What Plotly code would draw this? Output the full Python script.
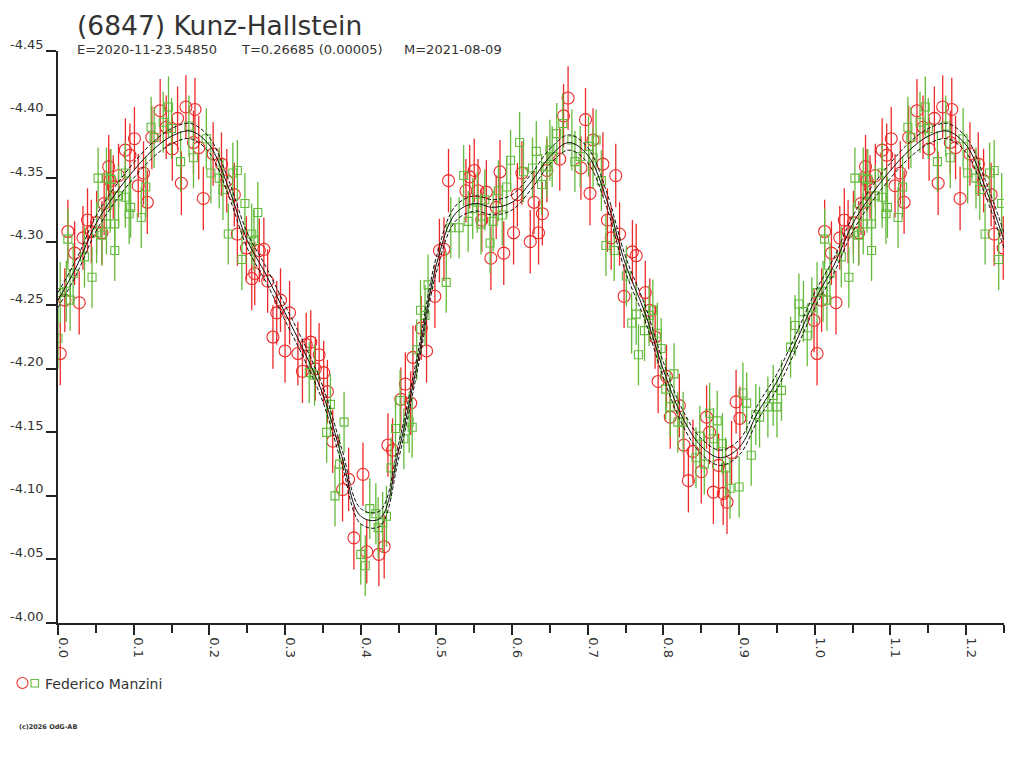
import plotly.graph_objects as go

# light curve: phase vs reduced magnitude, one observer, two data sets
red_phase = [0.003, 0.013, 0.009, 0.022, 0.028, 0.033, 0.039, 0.044, 0.051, 0.058,
             0.061, 0.067, 0.069, 0.073, 0.080, 0.089, 0.095, 0.101, 0.106, 0.113,
             0.118, 0.124, 0.135, 0.143, 0.151, 0.158, 0.163, 0.169, 0.181, 0.179,
             0.186, 0.192, 0.205, 0.216, 0.223, 0.233, 0.237, 0.249, 0.256, 0.266,
             0.272, 0.260, 0.277, 0.294, 0.289, 0.306, 0.284, 0.300, 0.317, 0.328,
             0.334, 0.345, 0.323, 0.340, 0.351, 0.356, 0.363, 0.376, 0.384, 0.391,
             0.403, 0.408, 0.424, 0.431, 0.436, 0.442, 0.453, 0.459, 0.466, 0.469,
             0.480, 0.487, 0.498, 0.504, 0.510, 0.516, 0.539, 0.544, 0.550, 0.555,
             0.560, 0.566, 0.572, 0.579, 0.584, 0.589, 0.602, 0.607, 0.613, 0.624,
             0.629, 0.635, 0.640, 0.646, 0.663, 0.668, 0.674, 0.691, 0.697, 0.703,
             0.707, 0.720, 0.726, 0.731, 0.737, 0.742, 0.748, 0.759, 0.764, 0.776,
             0.782, 0.789, 0.793, 0.804, 0.809, 0.821, 0.827, 0.839, 0.833, 0.850,
             0.857, 0.861, 0.866, 0.873, 0.879, 0.884, 0.890, 0.896, 0.901, 0.999]
red_mag = [-4.212, -4.308, -4.254, -4.291, -4.252, -4.303, -4.317, -4.308, -4.315, -4.307,
           -4.330, -4.359, -4.348, -4.343, -4.352, -4.372, -4.368, -4.381, -4.344, -4.354,
           -4.331, -4.382, -4.403, -4.390, -4.373, -4.397, -4.346, -4.406, -4.404, -4.378,
           -4.374, -4.334, -4.369, -4.361, -4.348, -4.337, -4.306, -4.295, -4.271, -4.293,
           -4.294, -4.275, -4.269, -4.254, -4.244, -4.244, -4.225, -4.214, -4.212, -4.219,
           -4.221, -4.211, -4.198, -4.200, -4.197, -4.182, -4.143, -4.105, -4.113, -4.067,
           -4.117, -4.056, -4.054, -4.060, -4.140, -4.136, -4.176, -4.188, -4.173, -4.209,
           -4.232, -4.214, -4.257, -4.293, -4.294, -4.348, -4.340, -4.351, -4.356, -4.340,
           -4.317, -4.339, -4.287, -4.327, -4.355, -4.291, -4.307, -4.337, -4.354, -4.300,
           -4.331, -4.307, -4.322, -4.356, -4.365, -4.399, -4.413, -4.358, -4.396, -4.338,
           -4.380, -4.361, -4.317, -4.303, -4.352, -4.306, -4.257, -4.292, -4.289, -4.260,
           -4.246, -4.225, -4.190, -4.194, -4.162, -4.171, -4.140, -4.135, -4.112, -4.119,
           -4.162, -4.150, -4.103, -4.124, -4.102, -4.095, -4.134, -4.174, -4.161, -4.238]

green_phase = [0.000, 0.003, 0.011, 0.016, 0.013, 0.020, 0.035, 0.045, 0.051, 0.058,
               0.053, 0.064, 0.064, 0.070, 0.075, 0.069, 0.075, 0.080, 0.089, 0.094,
               0.096, 0.089, 0.110, 0.116, 0.123, 0.127, 0.146, 0.139, 0.150, 0.162,
               0.173, 0.179, 0.196, 0.202, 0.213, 0.218, 0.225, 0.231, 0.237, 0.243,
               0.247, 0.256, 0.259, 0.264, 0.332, 0.339, 0.360, 0.355, 0.378, 0.372,
               0.366, 0.412, 0.420, 0.423, 0.429, 0.434, 0.400, 0.406, 0.440, 0.446,
               0.452, 0.457, 0.464, 0.468, 0.474, 0.479, 0.485, 0.489, 0.513, 0.519,
               0.530, 0.536, 0.542, 0.548, 0.554, 0.559, 0.564, 0.571, 0.575, 0.582,
               0.587, 0.593, 0.598, 0.610, 0.615, 0.627, 0.632, 0.639, 0.646, 0.650,
               0.653, 0.659, 0.667, 0.679, 0.683, 0.690, 0.701, 0.707, 0.711, 0.718,
               0.724, 0.735, 0.751, 0.764, 0.758, 0.767, 0.775, 0.781, 0.786, 0.792,
               0.797, 0.803, 0.809, 0.814, 0.819, 0.826, 0.843, 0.848, 0.854, 0.861,
               0.866, 0.871, 0.878, 0.882, 0.888, 0.900, 0.905, 0.910, 0.916, 0.922,
               0.927, 0.938, 0.945, 0.950, 0.956, 0.968, 0.974, 0.979, 0.985, 0.990,
               0.996]
green_mag = [-4.224, -4.260, -4.261, -4.254, -4.302, -4.275, -4.288, -4.272, -4.307, -4.305,
             -4.350, -4.314, -4.350, -4.349, -4.293, -4.331, -4.314, -4.336, -4.354, -4.322,
             -4.327, -4.335, -4.319, -4.343, -4.390, -4.382, -4.406, -4.394, -4.389, -4.363,
             -4.391, -4.366, -4.381, -4.354, -4.350, -4.341, -4.306, -4.354, -4.356, -4.286,
             -4.330, -4.306, -4.301, -4.323, -4.197, -4.195, -4.172, -4.150, -4.158, -4.125,
             -4.100, -4.090, -4.086, -4.075, -4.079, -4.084, -4.054, -4.045, -4.122, -4.153,
             -4.175, -4.145, -4.158, -4.154, -4.215, -4.246, -4.242, -4.266, -4.268, -4.311,
             -4.311, -4.352, -4.316, -4.326, -4.331, -4.314, -4.333, -4.299, -4.316, -4.340,
             -4.321, -4.343, -4.364, -4.378, -4.355, -4.358, -4.371, -4.345, -4.359, -4.372,
             -4.367, -4.385, -4.393, -4.380, -4.363, -4.367, -4.375, -4.366, -4.380, -4.348,
             -4.297, -4.293, -4.273, -4.243, -4.236, -4.211, -4.230, -4.242, -4.246, -4.228,
             -4.216, -4.184, -4.170, -4.196, -4.158, -4.158, -4.130, -4.147, -4.125, -4.165,
             -4.145, -4.159, -4.141, -4.122, -4.106, -4.107, -4.181, -4.173, -4.132, -4.164,
             -4.162, -4.170, -4.179, -4.170, -4.183, -4.217, -4.234, -4.251, -4.245, -4.226,
             -4.248]

red_err = 0.025
green_err = 0.024

# fourier fit and its error envelope
fit_phase = [0.000, 0.025, 0.050, 0.075, 0.100, 0.125, 0.150, 0.175, 0.200, 0.225,
             0.250, 0.275, 0.300, 0.325, 0.350, 0.375, 0.400, 0.425, 0.450, 0.475,
             0.500, 0.525, 0.550, 0.575, 0.600, 0.625, 0.650, 0.675, 0.700, 0.725,
             0.750, 0.775, 0.800, 0.825, 0.850, 0.875, 0.900, 0.925, 0.950, 0.975,
             1.000]
fit_mag = [-4.254, -4.281, -4.314, -4.337, -4.356, -4.372, -4.383, -4.387, -4.376, -4.343,
           -4.301, -4.274, -4.244, -4.214, -4.180, -4.131, -4.084, -4.082, -4.135, -4.205,
           -4.282, -4.322, -4.330, -4.327, -4.331, -4.347, -4.367, -4.378, -4.368, -4.333,
           -4.282, -4.245, -4.199, -4.162, -4.139, -4.130, -4.138, -4.166, -4.190, -4.221,
           -4.254]
fit_upper = [-4.260, -4.287, -4.320, -4.343, -4.362, -4.378, -4.389, -4.393, -4.382, -4.349,
             -4.307, -4.280, -4.250, -4.220, -4.186, -4.137, -4.090, -4.088, -4.141, -4.211,
             -4.288, -4.328, -4.336, -4.333, -4.337, -4.353, -4.373, -4.384, -4.374, -4.339,
             -4.288, -4.251, -4.205, -4.168, -4.145, -4.136, -4.144, -4.172, -4.196, -4.227,
             -4.260]
fit_lower = [-4.248, -4.275, -4.308, -4.331, -4.350, -4.366, -4.377, -4.381, -4.370, -4.337,
             -4.295, -4.268, -4.238, -4.208, -4.174, -4.125, -4.078, -4.076, -4.129, -4.199,
             -4.276, -4.316, -4.324, -4.321, -4.325, -4.341, -4.361, -4.372, -4.362, -4.327,
             -4.276, -4.239, -4.193, -4.156, -4.133, -4.124, -4.132, -4.160, -4.184, -4.215,
             -4.248]

y_ticks = [-4.45, -4.40, -4.35, -4.30, -4.25, -4.20, -4.15, -4.10, -4.05, -4.00]
x_ticks = [0.0, 0.1, 0.2, 0.3, 0.4, 0.5, 0.6, 0.7, 0.8, 0.9, 1.0, 1.1, 1.2]

PHASE_MAX = 1.25


def wrap(ph, mag):
    # repeat the start of the cycle past phase 1.0
    xs = list(ph) + [p + 1 for p in ph if p + 1 <= PHASE_MAX and p > 0]
    ys = list(mag) + [m for p, m in zip(ph, mag) if p + 1 <= PHASE_MAX and p > 0]
    return xs, ys


RED = 'rgb(238,40,40)'
GREEN = 'rgb(100,186,60)'
FONT = 'DejaVu Sans, Verdana, sans-serif'

fig = go.Figure()

rx, ry = wrap(red_phase, red_mag)
fig.add_trace(go.Scatter(
    x=rx, y=ry, mode='markers',
    error_y=dict(type='constant', value=red_err, color=RED, thickness=1.3, width=0),
    marker=dict(symbol='circle-open', size=12, color=RED, line=dict(width=1.1)),
    showlegend=False
))

gx, gy = wrap(green_phase, green_mag)
fig.add_trace(go.Scatter(
    x=gx, y=gy, mode='markers',
    error_y=dict(type='constant', value=green_err, color=GREEN, thickness=1.3, width=0),
    marker=dict(symbol='square-open', size=8, color=GREEN, line=dict(width=1.1)),
    showlegend=False
))

for arr, dash in [(fit_upper, '4px,2px'), (fit_lower, '4px,2px'), (fit_mag, 'solid')]:
    fx, fy = wrap(fit_phase, arr)
    fig.add_trace(go.Scatter(
        x=fx, y=fy, mode='lines',
        line=dict(color='#111', width=1, dash=dash, shape='spline'),
        showlegend=False, hoverinfo='skip'
    ))

TXT = '#333333'

# the page body has an 8px margin, so the figure is drawn 8px in from the window edge
OFF = 8
W, H = 1024 - OFF, 768 - OFF

# plot area in window pixels
L, R, T, B = 58, 1004, 51, 623

annotations = [
    dict(text='(6847) Kunz-Hallstein', x=75, y=8, font=dict(size=26.5)),
    dict(text='E=2020-11-23.54850', x=75, y=40, font=dict(size=13)),
    dict(text='T=0.26685 (0.00005)', x=239, y=40, font=dict(size=13)),
    dict(text='M=2021-08-09', x=402, y=40, font=dict(size=13)),
    dict(text='Federico Manzini', x=43, y=674, font=dict(size=14)),
    dict(text='<b>(c)2026 OdG-AB</b>', x=17, y=721, font=dict(size=6.5)),
]


def px(x):
    return (x - L) / (R - L)


def py(y):
    return (B - y) / (B - T)


ann = []
for a in annotations:
    ann.append(dict(text=a['text'], x=px(a['x']), y=py(a['y']), xref='paper', yref='paper',
                    xanchor='left', yanchor='top', showarrow=False,
                    font=dict(family=FONT, color=TXT, size=a['font']['size'])))

shapes = [
    dict(type='circle', xref='paper', yref='paper', x0=px(17), x1=px(28), y0=py(688.5), y1=py(677.5),
         line=dict(color=RED, width=1.1)),
    dict(type='rect', xref='paper', yref='paper', x0=px(31), x1=px(38.5), y0=py(687), y1=py(679.5),
         line=dict(color=GREEN, width=1.1)),
]

fig.update_layout(
    width=W, height=H,
    margin=dict(l=L - OFF, r=1024 - R, t=T - OFF, b=768 - B, pad=0, autoexpand=False),
    paper_bgcolor='white', plot_bgcolor='white',
    font=dict(family=FONT, size=13, color=TXT),
    annotations=ann, shapes=shapes,
    showlegend=False,
    xaxis=dict(
        range=[0, PHASE_MAX], tickmode='array', tickvals=x_ticks,
        ticktext=['%.1f' % v for v in x_ticks], automargin=False,
        showgrid=False, zeroline=False, showline=True, linecolor='#222', linewidth=1.5,
        ticks='outside', ticklen=10, tickcolor='#222', tickwidth=1.5, tickangle=90,
        ticklabelshift=5, tickfont=dict(size=13, color=TXT),
        minor=dict(dtick=0.05, tick0=0, ticks='outside', ticklen=8, tickcolor='#222', tickwidth=1.5),
    ),
    yaxis=dict(
        range=[-4.0, -4.45], tickmode='array', tickvals=y_ticks,
        ticktext=['%.2f' % v for v in y_ticks], automargin=False,
        showgrid=False, zeroline=False, showline=True, linecolor='#222', linewidth=1.5,
        ticks='outside', ticklen=10, tickcolor='#222', tickwidth=1.5,
        ticklabelshift=7, tickfont=dict(size=13, color=TXT),
    ),
)

fig.write_html('out.html')
